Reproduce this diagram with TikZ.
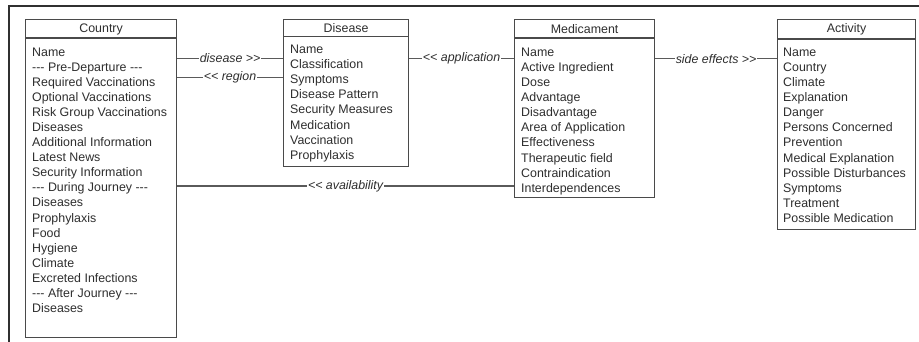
\documentclass[tikz,border=0pt]{standalone}
\usepackage{fontspec}
\newfontfamily\umlfont{Liberation Sans}
\definecolor{boxc}{HTML}{4A4A4A}
\definecolor{linec}{HTML}{5A5A5A}
\definecolor{txt}{HTML}{2E2E2E}
\definecolor{framec}{HTML}{303030}
\begin{document}
\begin{tikzpicture}[x=1pt,y=-1pt,
  every node/.style={font=\umlfont\fontsize{12.4}{15}\selectfont, text=txt},
  classbox/.style={draw=boxc, line width=1.2pt, anchor=north west, inner sep=0pt, fill=white},
  hline/.style={draw=boxc, line width=1.1pt},
  attr/.style={anchor=base west, inner sep=0pt},
  hdr/.style={anchor=center, inner sep=0pt},
  lbl/.style={fill=white, inner xsep=1pt, inner ysep=2pt, font=\umlfont\fontsize{12.4}{15}\selectfont\itshape},
  conn/.style={draw=linec, line width=1.1pt}]
\useasboundingbox (0,0) rectangle (919,342);
\fill[white] (0,0) rectangle (919,342);
\draw[framec, line width=1.4pt] (9,342) -- (9,6) -- (919,6);

% Country
\node[classbox, minimum width=151pt, minimum height=318pt] (country) at (25,19) {};
\draw[hline] ([yshift=-19pt]country.north west) -- ([yshift=-19pt]country.north east);
\node[hdr] (countryh) at ([yshift=-10pt]country.north) {Country};
\foreach \t [count=\i] in {Name,-{}-{}- Pre-Departure -{}-{}-,Required Vaccinations,Optional Vaccinations,Risk Group Vaccinations,Diseases,Additional Information,Latest News,Security Information,-{}-{}- During Journey -{}-{}-,Diseases,Prophylaxis,Food,Hygiene,Climate,Excreted Infections,-{}-{}- After Journey -{}-{}-,Diseases}
  \node[attr] (ca\i) at (32,{56.4+15.06*(\i-1)}) {\t};

% Disease
\node[classbox, minimum width=125pt, minimum height=147pt] (disease) at (283,19) {};
\draw[hline] ([yshift=-17.5pt]disease.north west) -- ([yshift=-17.5pt]disease.north east);
\node[hdr] (diseaseh) at ([yshift=-9pt]disease.north) {Disease};
\foreach \t [count=\i] in {Name,Classification,Symptoms,Disease Pattern,Security Measures,Medication,Vaccination,Prophylaxis}
  \node[attr] (da\i) at (290,{53.6+15.1*(\i-1)}) {\t};

% Medicament
\node[classbox, minimum width=140pt, minimum height=178pt] (medi) at (514,19) {};
\draw[hline] ([yshift=-19pt]medi.north west) -- ([yshift=-19pt]medi.north east);
\node[hdr] (medih) at ([yshift=-10pt]medi.north) {Medicament};
\foreach \t [count=\i] in {Name,Active Ingredient,Dose,Advantage,Disadvantage,Area of Application,Effectiveness,Therapeutic field,Contraindication,Interdependences}
  \node[attr] (ma\i) at (521,{56.4+15.1*(\i-1)}) {\t};

% Activity
\node[classbox, minimum width=138pt, minimum height=210pt] (act) at (777,19) {};
\draw[hline] ([yshift=-20pt]act.north west) -- ([yshift=-20pt]act.north east);
\node[hdr] (acth) at ([yshift=-10pt]act.north) {Activity};
\foreach \t [count=\i] in {Name,Country,Climate,Explanation,Danger,Persons Concerned,Prevention,Medical Explanation,Possible Disturbances,Symptoms,Treatment,Possible Medication}
  \node[attr] (aa\i) at (783,{56.4+15.1*(\i-1)}) {\t};

% Connectors
\draw[conn] ([yshift=-39.3pt]country.north east) -- node[lbl] (l1) {disease >{}>} ([yshift=-39.3pt]disease.north west);
\draw[conn] ([yshift=-58.7pt]country.north east) -- node[lbl] (l2) {<{}< region} ([yshift=-58.7pt]disease.north west);
\draw[conn] ([yshift=-39.7pt]disease.north east) -- node[lbl] (l3) {<{}< application} ([yshift=-39.7pt]medi.north west);
\draw[conn] ([yshift=-167pt]country.north east) -- node[lbl] (l4) {<{}< availability} ([yshift=-167pt]medi.north west);
\draw[conn] ([yshift=-39.7pt]medi.north east) -- node[lbl] (l5) {side effects >{}>} ([yshift=-39.7pt]act.north west);
\end{tikzpicture}
\end{document}
